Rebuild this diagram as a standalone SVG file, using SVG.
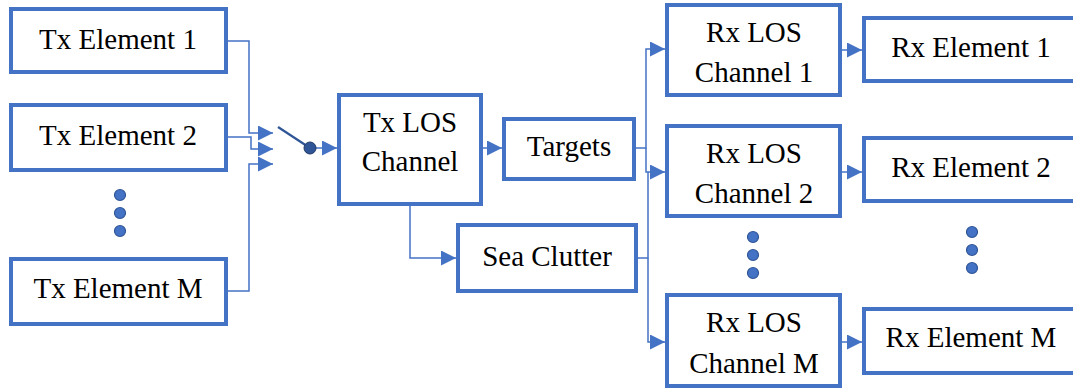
<svg xmlns="http://www.w3.org/2000/svg" width="1073" height="390" viewBox="0 0 1073 390">
  <style>
    .box { fill: #FFFFFF; stroke: #4472C4; stroke-width: 4; }
    .wire { fill: none; stroke: #4472C4; stroke-width: 1.5; }
    .dot { fill: #4472C4; stroke: #2F5597; stroke-width: 1.2; }
  </style>
  <defs>
    <marker id="arrow" markerUnits="userSpaceOnUse" markerWidth="17" markerHeight="16" refX="15" refY="7.5" orient="auto">
      <path d="M0,0 L15,7.5 L0,15 Z" fill="#4472C4"/>
    </marker>
  </defs>

  <rect width="1073" height="390" fill="#FFFFFF"/>

  <!-- connectors -->
  <g id="connectors">
    <!-- transmit elements into the switch -->
    <path class="wire" d="M228,41 H249 V133 H273" marker-end="url(#arrow)"/>
    <path class="wire" d="M228,137 H251 V149 H273" marker-end="url(#arrow)"/>
    <path class="wire" d="M228,291 H249 V164 H273" marker-end="url(#arrow)"/>
    <!-- switch blade and pivot -->
    <line x1="278" y1="127" x2="310" y2="148" stroke="#2F5597" stroke-width="2.2"/>
    <path class="wire" d="M310,148 H337" marker-end="url(#arrow)"/>
    <circle cx="310" cy="148" r="6" fill="#2F5597" stroke="#203864" stroke-width="1"/>
    <!-- Tx LOS channel to targets and sea clutter -->
    <path class="wire" d="M483,148 H502" marker-end="url(#arrow)"/>
    <path class="wire" d="M410,206 V258 H456" marker-end="url(#arrow)"/>
    <!-- targets fan-out -->
    <path class="wire" d="M636,148 H646 V49 H665" marker-end="url(#arrow)"/>
    <path class="wire" d="M646,148 V172 H665" marker-end="url(#arrow)"/>
    <!-- sea clutter fan-out -->
    <path class="wire" d="M638,258 H648 V172"/>
    <path class="wire" d="M648,258 V342 H665" marker-end="url(#arrow)"/>
    <!-- receive channels to receive elements -->
    <path class="wire" d="M842,50 H862" marker-end="url(#arrow)"/>
    <path class="wire" d="M842,172 H862" marker-end="url(#arrow)"/>
    <path class="wire" d="M842,342 H862" marker-end="url(#arrow)"/>
  </g>

  <g font-family="Liberation Serif" font-size="29" fill="#000000" text-anchor="middle">
    <!-- transmit side -->
    <g id="tx-element-1">
      <rect class="box" x="11" y="9" width="215" height="63"/>
      <text x="118" y="49">Tx Element 1</text>
    </g>
    <g id="tx-element-2">
      <rect class="box" x="11" y="105" width="215" height="65"/>
      <text x="118" y="145">Tx Element 2</text>
    </g>
    <g id="tx-ellipsis">
      <circle class="dot" cx="120" cy="195" r="5.5"/>
      <circle class="dot" cx="120" cy="213" r="5.5"/>
      <circle class="dot" cx="120" cy="231" r="5.5"/>
    </g>
    <g id="tx-element-m">
      <rect class="box" x="11" y="259" width="215" height="65"/>
      <text x="118" y="298">Tx Element M</text>
    </g>

    <g id="tx-los-channel">
      <rect class="box" x="339" y="95" width="142" height="109"/>
      <text x="410" y="132">Tx LOS</text>
      <text x="410" y="171">Channel</text>
    </g>

    <g id="targets">
      <rect class="box" x="504" y="119" width="130" height="60"/>
      <text x="569" y="156">Targets</text>
    </g>
    <g id="sea-clutter">
      <rect class="box" x="458" y="225" width="178" height="66"/>
      <text x="547" y="266">Sea Clutter</text>
    </g>

    <!-- receive side -->
    <g id="rx-los-channel-1">
      <rect class="box" x="667" y="5" width="173" height="90"/>
      <text x="754" y="42">Rx LOS</text>
      <text x="754" y="82">Channel 1</text>
    </g>
    <g id="rx-los-channel-2">
      <rect class="box" x="667" y="126" width="173" height="90"/>
      <text x="754" y="163">Rx LOS</text>
      <text x="754" y="203">Channel 2</text>
    </g>
    <g id="rx-channel-ellipsis">
      <circle class="dot" cx="753" cy="237" r="5.5"/>
      <circle class="dot" cx="753" cy="255" r="5.5"/>
      <circle class="dot" cx="753" cy="273" r="5.5"/>
    </g>
    <g id="rx-los-channel-m">
      <rect class="box" x="667" y="295" width="173" height="91"/>
      <text x="754" y="332">Rx LOS</text>
      <text x="754" y="373">Channel M</text>
    </g>

    <g id="rx-element-1">
      <rect class="box" x="864" y="18" width="220" height="63"/>
      <text x="971" y="57">Rx Element 1</text>
    </g>
    <g id="rx-element-2">
      <rect class="box" x="864" y="138" width="220" height="63"/>
      <text x="971" y="177">Rx Element 2</text>
    </g>
    <g id="rx-element-ellipsis">
      <circle class="dot" cx="972" cy="232" r="5.5"/>
      <circle class="dot" cx="972" cy="250" r="5.5"/>
      <circle class="dot" cx="972" cy="268" r="5.5"/>
    </g>
    <g id="rx-element-m">
      <rect class="box" x="864" y="309" width="220" height="64"/>
      <text x="971" y="347">Rx Element M</text>
    </g>
  </g>
</svg>
